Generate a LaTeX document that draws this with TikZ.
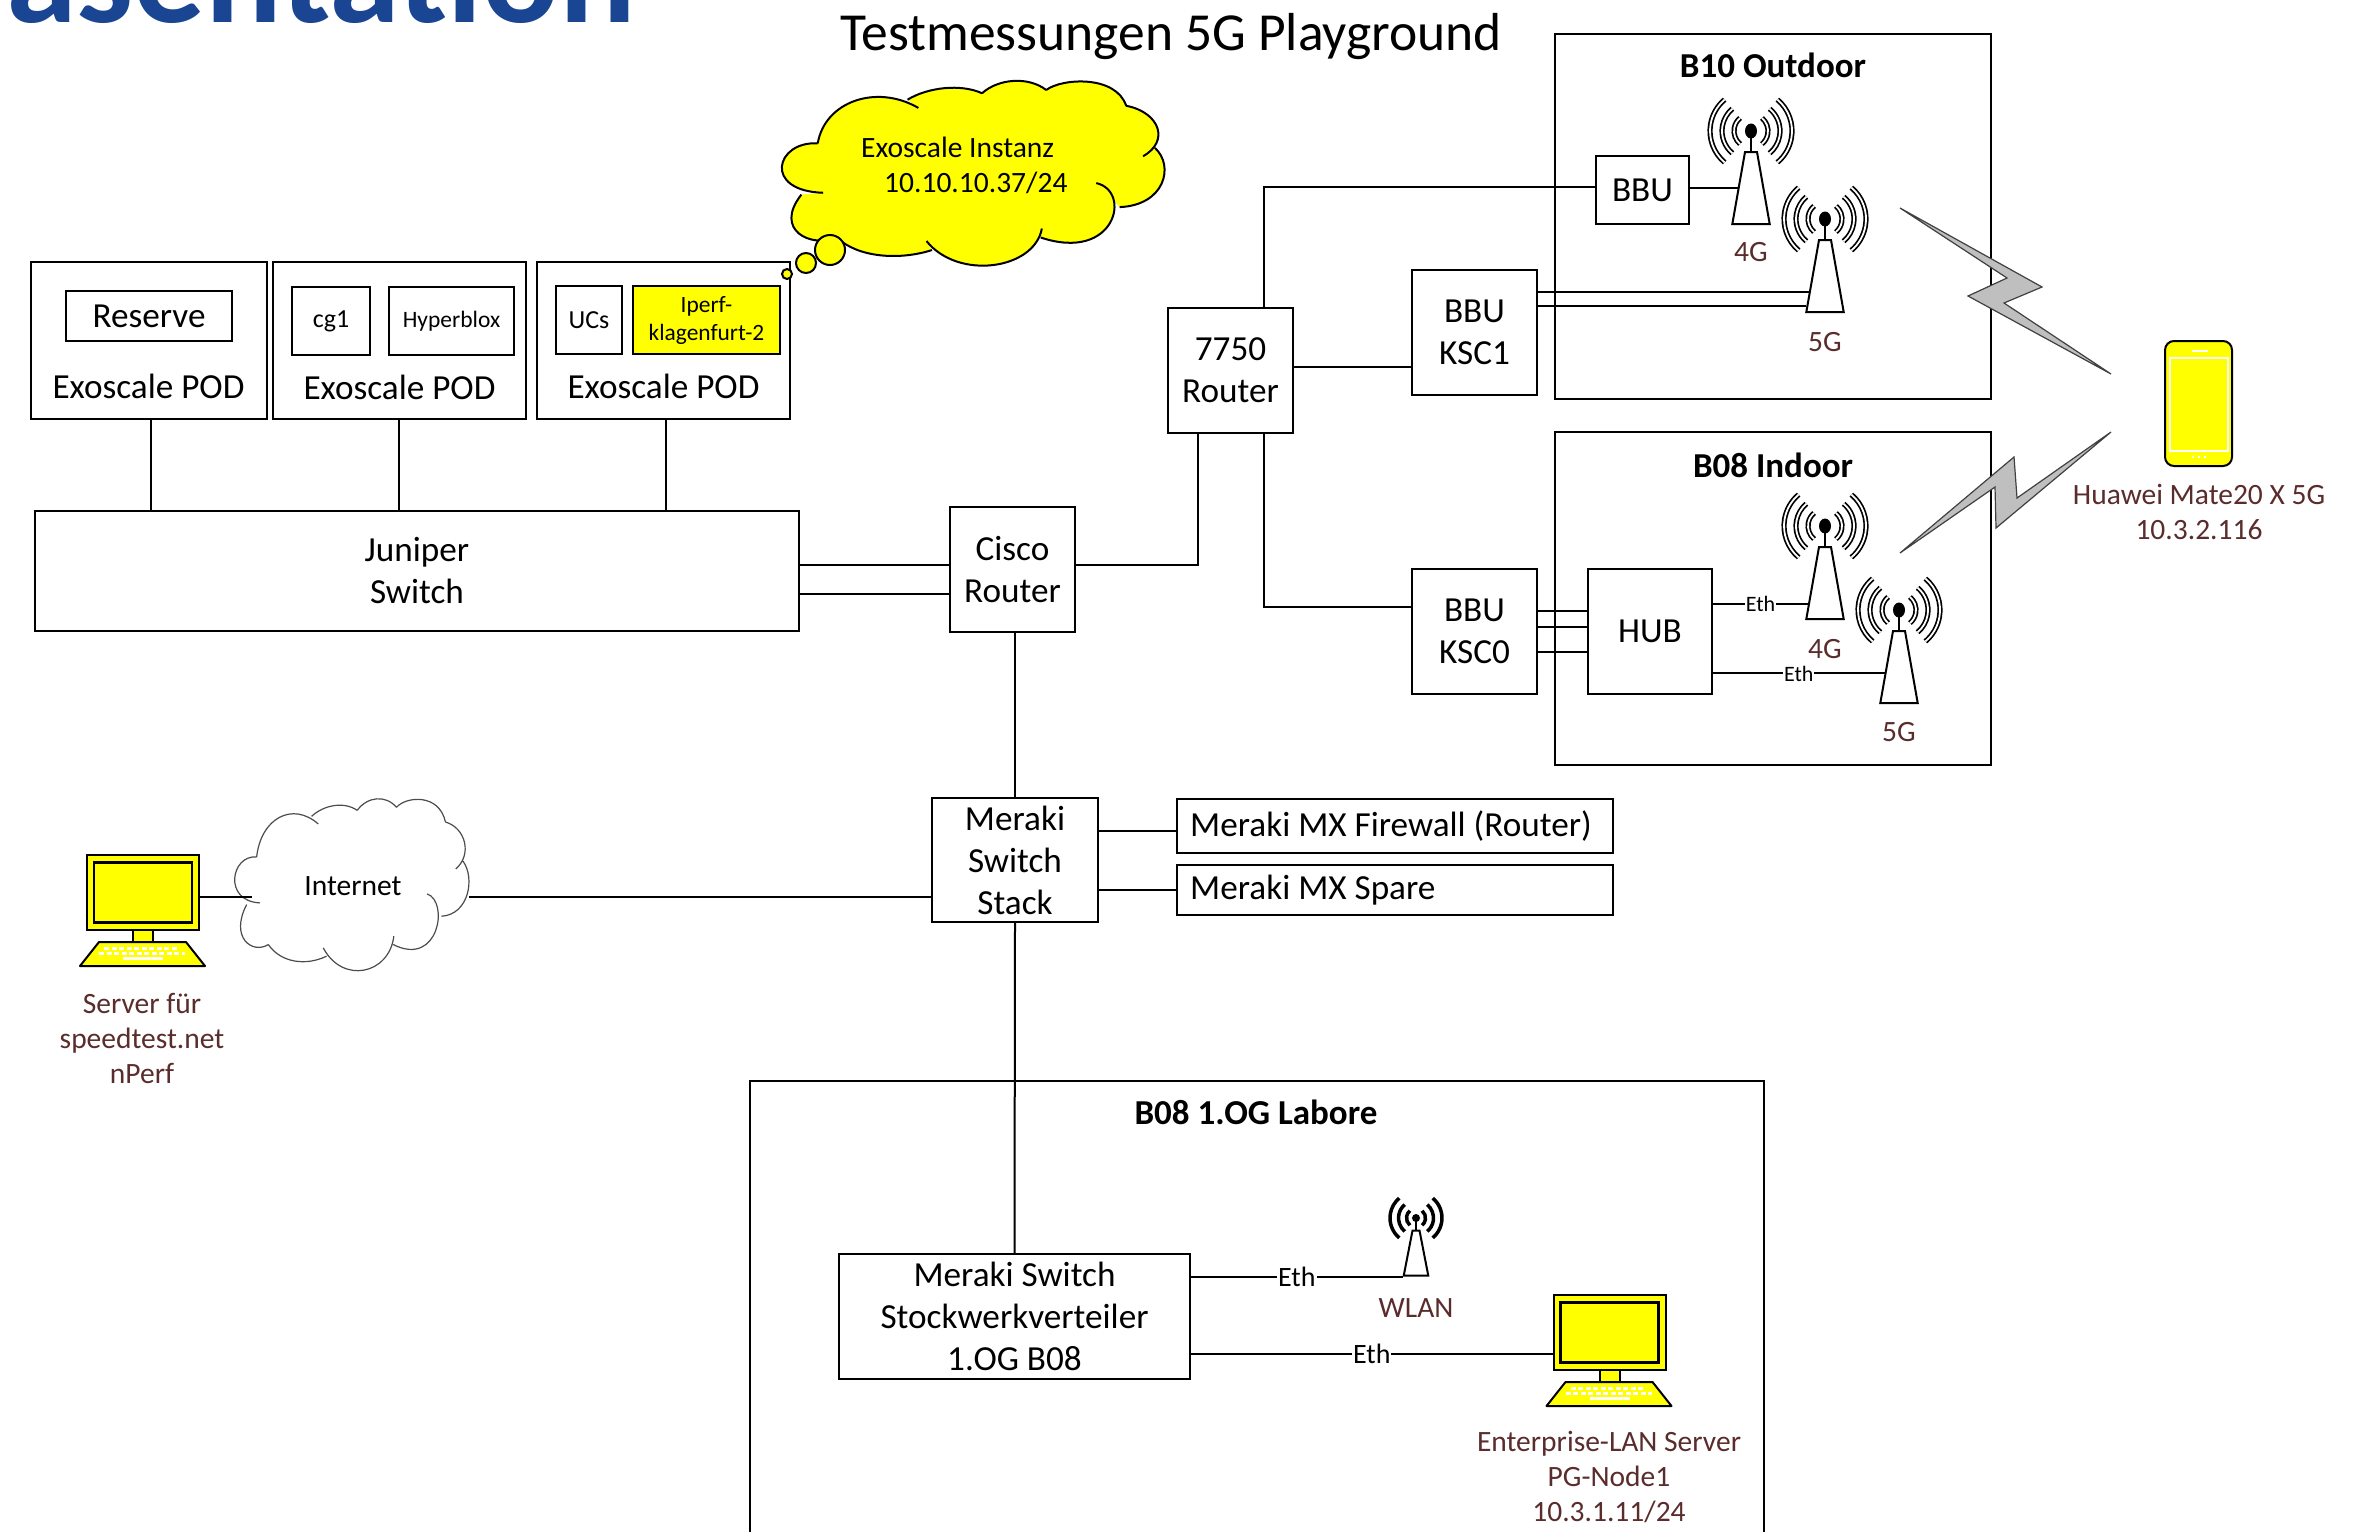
\documentclass[tikz,border=0pt]{standalone}
\usepackage{fontspec}
\setmainfont{Carlito}
\usepackage{tikz}
\usetikzlibrary{shapes.geometric, positioning, calc}

\definecolor{labelbrown}{HTML}{5A2C2C}
\definecolor{headblue}{HTML}{1A4593}
\definecolor{marker}{HTML}{FFFF00}
\definecolor{boltgray}{HTML}{BFBFBF}
\definecolor{boltline}{HTML}{404040}

\newcommand{\cloudsegs}[1]{
  (62,177) .. controls (75,60) and (170,10) .. (247,78) #1
  (227,55) .. controls (265,20) and (325,10) .. (364,37) #1
  (364,37) .. controls (395,-5) and (450,-10) .. (482,28) #1
  (482,28) .. controls (510,-5) and (610,-15) .. (629,72) #1
  (629,72) .. controls (690,90) and (710,170) .. (660,213) #1
  (682,190) .. controls (718,240) and (700,350) .. (617,355) #1
  (574,288) .. controls (640,310) and (610,510) .. (472,440) #1
  (474,415) .. controls (460,530) and (320,560) .. (262,450) #1
  (272,475) .. controls (210,505) and (135,495) .. (97,440) #1
  (97,440) .. controls (50,470) and (-20,420) .. (32,320) #1
  (72,315) .. controls (-40,310) and (-15,170) .. (62,177)
}

\tikzset{
  antenna/.pic={
    \node (-tower) [tower] at (0,0) {};
    \draw [link] (0,-36) -- (0,-57);
    \fill (0,-57) ellipse [x radius=6, y radius=7.5];
    \foreach \r in {17,29,41} {
      \draw [line width=1.7pt, double=white, double distance=1.8pt] (0,-57) ++(-50:\r) arc [start angle=-50, end angle=50, radius=\r];
      \draw [line width=1.7pt, double=white, double distance=1.8pt] (0,-57) ++(130:\r) arc [start angle=130, end angle=230, radius=\r];
    }
  },
  wifi/.pic={
    \node (-tower) [tower, inner xsep=3.5pt, inner ysep=22.5pt, trapezium left angle=79, trapezium right angle=79] at (0,0) {};
    \draw [link] (0,-22) -- (0,-35);
    \fill (0,-35) circle [radius=4];
    \foreach \r in {9.5,17.5,26} {
      \draw [line width=3.5pt] (0,-35) ++(-50:\r) arc [start angle=-50, end angle=50, radius=\r];
      \draw [line width=3.5pt] (0,-35) ++(130:\r) arc [start angle=130, end angle=230, radius=\r];
    }
  },
  computer/.pic={
    \node (-mon) [box, fill=marker, minimum width=112pt, minimum height=75pt] at (0,0) {};
    \draw [link, line width=2.4pt] (-49,-30) rectangle (49,30);
    \draw [link, fill=marker] (-10,37.5) rectangle (10,49.5);
    \draw [link, fill=marker, line join=round] (-44,49.5) -- (43,49.5) -- (62,73.5) -- (-63,73.5) -- cycle;
    \draw [white, line width=3pt, dash pattern=on 5pt off 2.5pt] (-39,55.5) -- (36,55.5);
    \draw [white, line width=3pt, dash pattern=on 5pt off 2.5pt] (-44,60.5) -- (42,60.5);
    \draw [white, line width=3pt] (-20,66) -- (20,66);
  }
}

\begin{document}
\begin{tikzpicture}[
  x=1pt, y=-1pt,
  every node/.style={inner sep=0pt, align=center, font=\fontsize{35.2}{42}\selectfont},
  box/.style={rectangle, draw, line width=2pt, minimum width=125pt, minimum height=125pt},
  tower/.style={trapezium, draw, line width=2pt, fill=white, inner xsep=6pt, inner ysep=36pt, trapezium left angle=80, trapezium right angle=80},
  link/.style={line width=2pt},
  caption/.style={text=labelbrown, font=\fontsize{29.5}{35}\selectfont},
  eth/.style={fill=white, inner xsep=1pt, font=\fontsize{22}{24}\selectfont},
  ethbig/.style={fill=white, inner xsep=1pt, font=\fontsize{28}{30}\selectfont},
  heading/.style={font=\bfseries\fontsize{35}{40}\selectfont},
  bolt/.style={draw=boltline, fill=boltgray, line width=1.2pt, line join=miter}
]
\useasboundingbox (0,0) rectangle (2358,1531);

\node (deck) [anchor=base west, text=headblue, font=\bfseries\fontsize{143}{143}\selectfont] at (6,23) {asentation};
\node (title) [font=\fontsize{53.5}{58}\selectfont] at (1171,37) {Testmessungen 5G Playground};

\node (pod1) [box, minimum width=236pt, minimum height=157pt] at (148.5,340.5) {};
\node (pod2) [box, right=4pt of pod1, minimum width=253pt, minimum height=157pt] {};
\node (pod3) [box, right=9pt of pod2, minimum width=253pt, minimum height=157pt] {};
\node (pod1txt) at (148.5,386) {Exoscale POD};
\node (pod2txt) at (399.5,387) {Exoscale POD};
\node (pod3txt) at (663.5,386) {Exoscale POD};

\node (reserve) [box, minimum width=166pt, minimum height=50pt] at (149,316) {Reserve};
\node (cg) [box, minimum width=78pt, minimum height=68pt, font=\fontsize{26}{30}\selectfont] at (331,321) {cg1};
\node (hyper) [box, right=17pt of cg, minimum width=125pt, minimum height=68pt, font=\fontsize{23.5}{28}\selectfont] {Hyperblox};
\node (ucs) [box, minimum width=66pt, minimum height=68pt, font=\fontsize{26}{30}\selectfont] at (589,320) {UCs};
\node (iperf) [box, right=9pt of ucs, minimum width=147pt, minimum height=68pt, fill=marker, font=\fontsize{23.4}{28}\selectfont] {Iperf-\\klagenfurt-2};

\begin{scope}[shift={(784,80)}, xscale=0.544, yscale=0.358]
  \fill [marker] \cloudsegs{--} -- cycle;
  \draw [line width=2pt] \cloudsegs{};
\end{scope}
\node (instanz) [anchor=west, align=left, font=\fontsize{29.5}{35}\selectfont] at (861,165) {Exoscale Instanz\\\hspace*{23pt}10.10.10.37/24};
\node (bubble1) [circle, draw, line width=2pt, fill=marker, minimum size=30pt] at (830,250) {};
\node (bubble2) [circle, draw, line width=2pt, fill=marker, minimum size=20pt] at (806,263) {};
\node (bubble3) [circle, draw, line width=2pt, fill=marker, minimum size=10pt] at (787,274) {};

\node (juniper) [box, minimum width=764pt, minimum height=120pt] at (417,571) {Juniper\\Switch};
\node (cisco) [box] at (1012.5,569.5) {Cisco\\Router};
\node (router) [box] at (1230.5,370) {7750\\Router};
\node (ksc1) [box] at (1474.5,332.5) {BBU\\KSC1};
\node (ksc0) [box] at (1474.5,631.5) {BBU\\KSC0};

\node (outdoor) [box, minimum width=436pt, minimum height=365pt] at (1773,216.5) {};
\node (indoor) [box, minimum width=436pt, minimum height=333pt] at (1773,598.5) {};
\node (outdoortxt) [heading] at (1773,65) {B10 Outdoor};
\node (indoortxt) [heading] at (1773,465) {B08 Indoor};
\node (bbu) [box, minimum width=93pt, minimum height=68pt] at (1642.5,190) {BBU};
\node (hub) [box, minimum width=124pt] at (1650,631.5) {HUB};

\pic (ant4a) at (1751,188) {antenna};
\pic (ant5a) at (1825,276) {antenna};
\pic (ant4b) at (1825,583) {antenna};
\pic (ant5b) at (1899,667) {antenna};
\node (ant4atxt) [caption] at (1751,252) {4G};
\node (ant5atxt) [caption] at (1825,342) {5G};
\node (ant4btxt) [caption] at (1825,649) {4G};
\node (ant5btxt) [caption] at (1899,732) {5G};

\draw [bolt] (1900,208) -- (2042,287) -- (2004,303) -- (2111,374) -- (1968,296) -- (2007,278) -- cycle;
\draw [bolt] (1900,553) -- (1995,487) -- (1996,528) -- (2111,432) -- (2017,498) -- (2014,457) -- cycle;

\node (phone) [draw, line width=2pt, fill=marker, rounded corners=9pt, minimum width=67pt, minimum height=125pt] at (2198.5,403.5) {};
\draw [white, line width=1.2pt] (2170,358) rectangle (2228,451);
\draw [white, line width=1.5pt] (2192,351) -- (2208,351);
\foreach \x in {2193,2199,2205}
  \fill [white] (\x,457) circle [radius=1.3];
\node (phonetxt) [caption] at (2199,512) {Huawei Mate20 X 5G\\10.3.2.116};

\node (meraki) [box, minimum width=166pt, minimum height=124pt] at (1015,860) {Meraki\\Switch\\Stack};
\node (firewall) [box, anchor=north west, minimum width=436pt, minimum height=54pt] at (1176,798) {};
\node (spare) [box, anchor=north west, minimum width=436pt, minimum height=50pt] at (1176,864) {};
\node (firewalltxt) [anchor=west] at (1190,826) {Meraki MX Firewall (Router)};
\node (sparetxt) [anchor=west] at (1190,890) {Meraki MX Spare};

\begin{scope}[shift={(236,798)}, xscale=0.333, yscale=0.333]
  \fill [white] \cloudsegs{--} -- cycle;
  \draw [black!70, line width=1.2pt] \cloudsegs{};
\end{scope}
\node (internet) [font=\fontsize{29.5}{32}\selectfont] at (353,886) {Internet};
\coordinate (cloudwest) at (252,897);
\coordinate (cloudeast) at (469,897);

\pic (srv1) at (143,892.5) {computer};
\node (srv1txt) [caption] at (142,1038) {Server für\\speedtest.net\\nPerf};

\node (labore) [box, anchor=north west, minimum width=1014pt, minimum height=500pt] at (749,1080) {};
\node (laboretxt) [heading] at (1256,1112) {B08 1.OG Labore};
\node (stock) [box, minimum width=351pt] at (1014.5,1316.5) {Meraki Switch\\Stockwerkverteiler\\1.OG B08};
\pic (wlan) at (1416,1253) {wifi};
\node (wlantxt) [caption] at (1416,1308) {WLAN};
\pic (srv2) at (1609.5,1332.5) {computer};
\node (srv2txt) [caption] at (1609,1477) {Enterprise-LAN Server\\PG-Node1\\10.3.1.11/24};

\draw [link] ([xshift=2.5pt]pod1.south) -- ([xshift=2.5pt]pod1.south |- juniper.north);
\draw [link] (pod2.south) -- (pod2.south |- juniper.north);
\draw [link] ([xshift=2.5pt]pod3.south) -- ([xshift=2.5pt]pod3.south |- juniper.north);
\draw [link] ([yshift=6pt]juniper.east) -- ([yshift=4.5pt]cisco.west);
\draw [link] ([yshift=-23pt]juniper.east) -- ([yshift=-24.5pt]cisco.west);
\draw [link] ([yshift=4.5pt]cisco.east) -| ([xshift=-32.5pt]router.south);
\draw [link] ([xshift=33.5pt]router.north) |- ([yshift=3pt]bbu.west);
\draw [link] ([yshift=3pt]router.east) -- ([yshift=-34.5pt]ksc1.west);
\draw [link] ([xshift=33.5pt]router.south) |- ([yshift=24.5pt]ksc0.west);
\draw [link] (bbu.east |- ant4a-tower.west) -- (ant4a-tower.west);
\draw [link] (ksc1.east |- ant5a-tower.225) -- (ant5a-tower.225);
\draw [link] (ksc1.east |- ant5a-tower.238) -- (ant5a-tower.238);
\draw [link] ([yshift=20.5pt]ksc0.east) -- ([yshift=20.5pt]hub.west);
\draw [link] ([yshift=4.5pt]ksc0.east) -- ([yshift=4.5pt]hub.west);
\draw [link] ([yshift=-20.5pt]ksc0.east) -- ([yshift=-20.5pt]hub.west);
\draw [link] (hub.east |- ant4b-tower.231) -- node [eth] {Eth} (ant4b-tower.231);
\draw [link] (hub.east |- ant5b-tower.204) -- node [eth] {Eth} (ant5b-tower.204);
\draw [link] ([xshift=2.5pt]cisco.south) -- (meraki.north);
\draw [link] (meraki.south) -- (stock.north);
\draw [link] ([yshift=29pt]meraki.east) -- ([yshift=29pt]meraki.east -| firewall.west);
\draw [link] (meraki.east |- spare.west) -- (spare.west);
\draw [link] (cloudeast) -- (cloudeast -| meraki.west);
\draw [link] ([yshift=-4.5pt,xshift=-2pt]srv1-mon.east) -- (cloudwest);
\draw [link] (stock.east |- wlan-tower.bottom left corner) -- node [ethbig] {Eth} (wlan-tower.bottom left corner);
\draw [link] ([yshift=-37.5pt]stock.east) -- node [ethbig] {Eth} ([yshift=-21.5pt]srv2-mon.west);

\end{tikzpicture}
\end{document}
